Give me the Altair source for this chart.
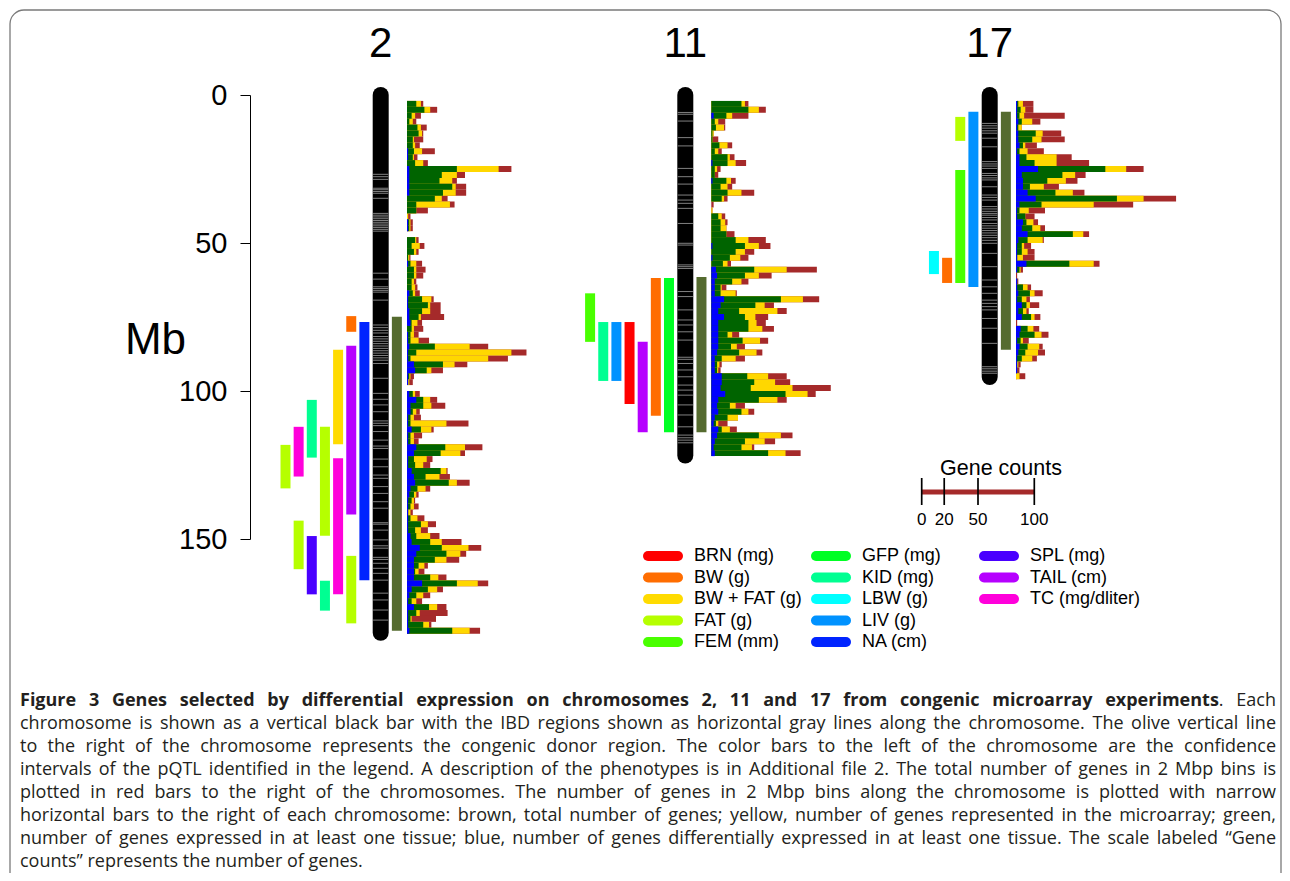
import glob
import os
import struct

import altair as alt
import pandas as pd

# ------------------------------------------------------------------ data
CHROMS = ["2", "11", "17"]
CHROM_LEN = [181.7, 121.8, 95.3]          # Mb
DONOR_START = [74.9, 61.5, 5.7]           # congenic donor region (Mb)
DONOR_END = [181.0, 113.9, 86.1]

PHENOS = ["BRN (mg)", "BW (g)", "BW + FAT (g)", "FAT (g)", "FEM (mm)",
          "GFP (mg)", "KID (mg)", "LBW (g)", "LIV (g)", "NA (cm)",
          "SPL (mg)", "TAIL (cm)", "TC (mg/dliter)"]
PHENO_COLORS = ["#FF0000", "#FF6D00", "#FFDB00", "#B6FF00", "#49FF00",
                "#00FF24", "#00FF92", "#00FFFF", "#0092FF", "#0024FF",
                "#4900FF", "#B600FF", "#FF00DB"]

# pQTL confidence intervals; lane 1 = column next to the chromosome
QTL_CHROM = ["2"] * 13 + ["11"] * 7 + ["17"] * 5
QTL_PHENO = ["NA (cm)", "BW (g)", "TAIL (cm)", "FAT (g)", "BW + FAT (g)",
             "TC (mg/dliter)", "FAT (g)", "KID (mg)", "KID (mg)", "SPL (mg)",
             "TC (mg/dliter)", "FAT (g)", "FAT (g)",
             "GFP (mg)", "BW (g)", "TAIL (cm)", "BRN (mg)", "LIV (g)",
             "KID (mg)", "FEM (mm)",
             "LIV (g)", "FAT (g)", "FEM (mm)", "BW (g)", "LBW (g)"]
QTL_LANE = [1, 2, 2, 2, 3, 3, 4, 4, 5, 5, 6, 6, 7,
            1, 2, 3, 4, 5, 6, 7,
            1, 2, 2, 3, 4]
QTL_START = [76.7, 74.7, 84.7, 155.7, 86.1, 122.7, 112.1, 164.1, 103.0, 149.0,
             112.1, 143.8, 118.2,
             61.8, 61.8, 83.4, 76.7, 76.7, 76.7, 67.0,
             5.7, 7.4, 25.3, 55.0, 52.7]
QTL_END = [163.9, 80.0, 141.7, 178.5, 118.0, 168.7, 148.9, 174.2, 122.5, 168.7,
           128.9, 160.2, 132.9,
           113.9, 108.4, 113.9, 104.4, 96.6, 96.6, 83.4,
           64.9, 15.5, 63.5, 63.5, 60.5]

# IBD regions (Mb) drawn as thin lines across the chromosome
IBD_2 = [26.8, 27.6, 28.5, 31.5, 32.0, 32.6, 33.2, 34.9, 40.0, 40.6, 41.2, 41.8,
         42.4, 43.0, 43.6, 44.2, 44.8, 45.4, 46.0, 60.2, 62.2, 64.8, 65.4, 66.0,
         66.6, 69.3, 77.7, 78.6, 79.5, 80.4, 81.6, 82.4, 83.2, 84.0, 84.8, 85.6,
         86.4, 87.2, 88.0, 88.8, 89.6, 90.7, 95.7, 100.8, 102.8, 104.7, 107.0,
         110.1, 110.9, 111.7, 113.7, 116.6, 118.6, 119.4, 123.0, 125.6, 128.4,
         129.5, 132.3, 134.6, 137.4, 139.6, 144.5, 145.0, 147.0, 150.3, 152.3,
         153.1, 156.2, 156.9, 158.2, 159.9, 161.6, 163.9, 168.3, 170.6, 174.0,
         177.4]
IBD_11 = [5.9, 6.5, 8.8, 14.4, 17.2, 24.8, 27.6, 30.1, 33.8, 35.5, 36.6, 38.3,
          43.4, 50.1, 50.7, 57.4, 58.0, 58.6, 66.4, 68.1, 72.6, 76.0, 77.7, 80.0,
          82.8, 88.6, 89.3, 90.7, 92.9, 95.2, 98.0, 99.7, 101.4, 104.7, 108.1,
          112.1, 114.9, 115.8, 116.6, 117.5]
IBD_17 = [9.6, 10.4, 11.2, 12.1, 12.9, 14.6, 17.5, 22.5, 23.3, 24.0, 24.8, 26.5,
          27.2, 28.0, 28.7, 31.0, 33.8, 34.6, 35.5, 37.7, 38.5, 39.3, 40.0, 40.6,
          41.4, 42.2, 43.4, 44.2, 45.0, 45.8, 46.6, 47.4, 48.2, 49.1, 50.1, 53.5,
          58.0, 62.5, 64.8, 67.0, 69.3, 70.4, 71.5, 72.6, 75.5, 78.8, 83.9, 91.8,
          92.5, 93.3, 94.0]
IBD = [IBD_2, IBD_11, IBD_17]

# genes per 2 Mb bin (bin k covers 2k..2k+2 Mb)
C2_TOTAL = [0, 14, 26, 12, 8, 17, 14, 14, 11, 24,
            9, 18, 90, 50, 43, 51, 51, 35, 41, 18,
            3, 5, 5, 0, 10, 15, 10, 3, 13, 16,
            14, 8, 9, 11, 23, 29, 29, 32, 13, 14,
            10, 19, 70, 103, 87, 52, 31, 6, 5, 0,
            11, 26, 33, 11, 12, 53, 23, 13, 10, 65,
            50, 22, 20, 35, 37, 54, 20, 10, 7, 10,
            5, 15, 25, 18, 28, 47, 64, 51, 45, 18,
            15, 34, 70, 31, 20, 13, 34, 35, 25, 21,
            63]
C2_ARRAY = [0, 12, 20, 7, 5, 12, 13, 6, 7, 13,
            6, 14, 79, 43, 39, 42, 42, 30, 37, 8,
            1, 3, 3, 0, 8, 11, 8, 2, 8, 8,
            8, 6, 7, 7, 21, 20, 20, 12, 9, 6,
            6, 10, 54, 90, 70, 41, 21, 3, 2, 0,
            7, 20, 21, 8, 6, 34, 21, 6, 6, 50,
            46, 17, 14, 34, 28, 43, 16, 8, 6, 6,
            3, 9, 18, 12, 20, 30, 53, 46, 34, 15,
            10, 27, 61, 26, 14, 8, 26, 11, 4, 19,
            54]
C2_EXPR = [0, 8, 15, 4, 2, 9, 10, 5, 5, 6,
           5, 7, 43, 30, 28, 39, 31, 24, 8, 8,
           0, 2, 2, 0, 7, 4, 6, 1, 3, 6,
           6, 4, 4, 5, 13, 18, 13, 10, 4, 4,
           3, 3, 24, 8, 3, 31, 17, 2, 1, 0,
           5, 14, 14, 5, 3, 3, 12, 3, 3, 33,
           29, 6, 7, 29, 16, 36, 9, 6, 4, 3,
           1, 3, 12, 7, 8, 20, 30, 34, 24, 10,
           7, 20, 43, 18, 8, 4, 19, 8, 3, 14,
           39]
C2_DE = [0, 0, 0, 0, 0, 0, 0, 0, 0, 1,
         1, 0, 2, 2, 2, 2, 2, 0, 0, 0,
         0, 1, 1, 0, 0, 0, 0, 0, 1, 0,
         0, 0, 0, 2, 1, 1, 2, 2, 3, 0,
         1, 1, 2, 1, 1, 6, 7, 1, 1, 0,
         2, 8, 3, 3, 1, 1, 4, 1, 1, 8,
         6, 1, 1, 4, 6, 7, 3, 2, 1, 1,
         1, 1, 1, 1, 3, 4, 11, 8, 6, 6,
         6, 6, 13, 4, 2, 1, 6, 1, 1, 1,
         2]

C11_TOTAL = [0, 32, 47, 32, 12, 12, 2, 6, 18, 9,
             20, 30, 8, 6, 21, 18, 37, 14, 2, 1,
             12, 14, 13, 20, 47, 51, 37, 32, 17, 91,
             52, 32, 13, 22, 93, 54, 65, 49, 47, 54,
             24, 49, 29, 44, 29, 9, 8, 65, 68, 103,
             90, 65, 29, 37, 23, 14, 22, 70, 55, 37,
             77]
C11_ARRAY = [0, 29, 41, 18, 6, 11, 2, 1, 14, 6,
             16, 21, 5, 3, 17, 14, 26, 11, 0, 1,
             9, 12, 13, 13, 32, 41, 29, 25, 14, 65,
             41, 26, 9, 21, 79, 46, 57, 38, 39, 44,
             18, 42, 22, 39, 21, 7, 6, 49, 55, 70,
             83, 57, 21, 32, 23, 6, 16, 60, 46, 35,
             64]
C11_EXPR = [0, 26, 32, 13, 3, 4, 1, 1, 7, 3,
            14, 14, 3, 3, 13, 8, 14, 9, 0, 0,
            6, 8, 8, 13, 21, 29, 21, 16, 10, 37,
            29, 18, 8, 8, 60, 38, 24, 29, 32, 32,
            14, 27, 17, 24, 9, 5, 5, 31, 37, 34,
            64, 41, 16, 26, 14, 4, 9, 41, 29, 26,
            49]
C11_DE = [0, 0, 0, 2, 0, 0, 0, 0, 0, 0,
          0, 1, 0, 0, 1, 0, 0, 0, 0, 0,
          0, 0, 0, 0, 0, 1, 0, 1, 0, 4,
          5, 3, 3, 3, 11, 8, 6, 11, 6, 6,
          6, 6, 6, 5, 3, 3, 3, 9, 9, 8,
          12, 6, 5, 6, 3, 2, 6, 5, 3, 2,
          3]

C17_TOTAL = [0, 15, 15, 42, 21, 5, 39, 42, 18, 24,
             48, 63, 110, 60, 53, 37, 59, 138, 101, 25,
             16, 19, 25, 63, 24, 13, 16, 16, 72, 6,
             1, 2, 13, 23, 12, 20, 11, 21, 1, 20,
             28, 11, 23, 25, 18, 4, 3, 8]
C17_ARRAY = [0, 6, 8, 7, 14, 5, 23, 22, 8, 10,
             35, 35, 95, 51, 43, 24, 49, 110, 67, 11,
             8, 15, 21, 58, 23, 7, 10, 6, 67, 4,
             0, 1, 10, 16, 9, 12, 9, 16, 0, 15,
             22, 6, 20, 19, 14, 2, 1, 3]
C17_EXPR = [0, 2, 4, 3, 5, 2, 17, 14, 6, 3,
            9, 16, 77, 40, 27, 12, 34, 87, 22, 3,
            8, 9, 14, 49, 10, 5, 5, 1, 46, 3,
            0, 1, 6, 12, 5, 9, 6, 13, 0, 10,
            16, 4, 10, 8, 5, 1, 1, 0]
C17_DE = [0, 1, 1, 1, 2, 1, 2, 2, 3, 1,
          3, 3, 19, 5, 6, 6, 10, 17, 3, 1,
          1, 6, 5, 10, 2, 1, 1, 1, 9, 1,
          0, 1, 1, 2, 1, 5, 2, 5, 0, 4,
          3, 1, 3, 2, 1, 1, 1, 0]

GENES = [
    [C2_TOTAL, C2_ARRAY, C2_EXPR, C2_DE],
    [C11_TOTAL, C11_ARRAY, C11_EXPR, C11_DE],
    [C17_TOTAL, C17_ARRAY, C17_EXPR, C17_DE],
]
GENE_KINDS = ["total", "on array", "expressed", "differentially expressed"]
GENE_COLORS = ["#A52A2A", "#FFD700", "#006400", "#0000FF"]

MB_TICKS = [0, 50, 100, 150]
SCALE_TICKS = [0, 20, 50, 100]

CAPTION_BOLD = ("Figure 3 Genes selected by differential expression on chromosomes "
                "2, 11 and 17 from congenic microarray experiments")
CAPTION_TAIL = ". Each"
CAPTION_LINES = [
    "chromosome is shown as a vertical black bar with the IBD regions shown as horizontal gray lines along the chromosome. The olive vertical line",
    "to the right of the chromosome represents the congenic donor region. The color bars to the left of the chromosome are the confidence",
    "intervals of the pQTL identified in the legend. A description of the phenotypes is in Additional file 2. The total number of genes in 2 Mbp bins is",
    "plotted in red bars to the right of the chromosomes. The number of genes in 2 Mbp bins along the chromosome is plotted with narrow",
    "horizontal bars to the right of each chromosome: brown, total number of genes; yellow, number of genes represented in the microarray; green,",
    "number of genes expressed in at least one tissue; blue, number of genes differentially expressed in at least one tissue. The scale labeled \u201cGene",
    "counts\u201d represents the number of genes.",
]

# ------------------------------------------------------------------ layout / style
W, H = 1274, 865
FONT = "Liberation Sans"
CAP_FONT = "Open Sans"
CAP_SIZE = 18
CAP_LEFT, CAP_RIGHT = 12, 1268      # caption text block (justified)
Y_RANGE = [87, 531]                 # pixel rows of 0 Mb and 150 Mb
CHR_CENTER = [372.7, 677.3, 981.7]  # pixel column of each chromosome
LANE_STEP = 13.15                   # px per lane
GENE_ORIGIN = [399, 703.3, 1008]    # pixel column of 0 genes
GENE_PX = 1.16                      # px per gene


# ---------- text measuring (for the justified caption), with safe fallback
def _parse_font(path):
    data = open(path, "rb").read()
    if data[:4] == b"ttcf":
        raise ValueError("collection")
    ntab = struct.unpack(">H", data[4:6])[0]
    tabs = {}
    for k in range(ntab):
        tag, _cs, off, ln = struct.unpack(">4sIII", data[12 + 16 * k: 28 + 16 * k])
        tabs[tag.decode("latin1")] = off
    upem = struct.unpack(">H", data[tabs["head"] + 18: tabs["head"] + 20])[0]
    nhm = struct.unpack(">H", data[tabs["hhea"] + 34: tabs["hhea"] + 36])[0]
    ho = tabs["hmtx"]
    adv = [struct.unpack(">H", data[ho + 4 * k: ho + 4 * k + 2])[0] for k in range(nhm)]
    co = tabs["cmap"]
    nsub = struct.unpack(">H", data[co + 2: co + 4])[0]
    sub = None
    for k in range(nsub):
        pid, eid, so = struct.unpack(">HHI", data[co + 4 + 8 * k: co + 12 + 8 * k])
        fmt = struct.unpack(">H", data[co + so: co + so + 2])[0]
        if fmt == 4 and pid in (0, 3):
            sub = co + so
            break
    if sub is None:
        raise ValueError("no cmap")
    seg2 = struct.unpack(">H", data[sub + 6: sub + 8])[0]
    seg = seg2 // 2
    ends = struct.unpack(">%dH" % seg, data[sub + 14: sub + 14 + seg2])
    starts = struct.unpack(">%dH" % seg, data[sub + 16 + seg2: sub + 16 + 2 * seg2])
    deltas = struct.unpack(">%dh" % seg, data[sub + 16 + 2 * seg2: sub + 16 + 3 * seg2])
    rpos = sub + 16 + 3 * seg2
    roffs = struct.unpack(">%dH" % seg, data[rpos: rpos + seg2])

    def gid(c):
        for k in range(seg):
            if starts[k] <= c <= ends[k]:
                if roffs[k] == 0:
                    return (c + deltas[k]) & 0xFFFF
                a = rpos + 2 * k + roffs[k] + 2 * (c - starts[k])
                g = struct.unpack(">H", data[a: a + 2])[0]
                return (g + deltas[k]) & 0xFFFF if g else 0
        return 0

    cache = {}

    def width(s, size):
        tot = 0
        for ch in s:
            if ch not in cache:
                cache[ch] = adv[min(gid(ord(ch)), nhm - 1)]
            tot += cache[ch]
        return tot * size / upem

    width("abc", 10)
    return width


def _find_font(pred):
    files = []
    for root in ["/usr/share/fonts", "/usr/local/share/fonts",
                 os.path.expanduser("~/.fonts"), os.path.expanduser("~/.local/share/fonts")]:
        files += glob.glob(os.path.join(root, "**", "*.[ot]tf"), recursive=True)
    for f in sorted(files):
        if pred(os.path.basename(f).lower()):
            try:
                return _parse_font(f)
            except Exception:
                continue
    return None


measure_reg = _find_font(lambda n: n in ("opensans-regular.ttf", "opensans-regular.otf"))
measure_bold = _find_font(lambda n: n in ("opensans-bold.ttf", "opensans-bold.otf"))

# ---------- caption layout: words of each justified line
cap_left, cap_right, cap_bold = [], [], []
if measure_reg is not None and measure_bold is not None:
    bw = CAPTION_BOLD.split(" ")
    wb = [measure_bold(w, CAP_SIZE) for w in bw]
    sp_b = measure_bold(" ", CAP_SIZE)
    sp_r = measure_reg(" ", CAP_SIZE)
    dot = measure_reg(".", CAP_SIZE)
    each = measure_reg("Each", CAP_SIZE)
    natural = sum(wb) + sp_b * (len(bw) - 1) + dot + sp_r + each
    extra = max(0.0, (CAP_RIGHT - CAP_LEFT - natural) / len(bw))
    x = CAP_LEFT
    for w, wd in zip(bw, wb):
        cap_bold.append({"line": 0, "w": w, "px": x})
        x += wd + sp_b + extra
    x -= sp_b + extra
    cap_left.append({"line": 0, "w": ".", "px": x})
    cap_right.append({"line": 0, "w": "Each", "px": CAP_RIGHT})
else:
    cap_bold.append({"line": 0, "w": CAPTION_BOLD, "px": CAP_LEFT})
    cap_right.append({"line": 0, "w": CAPTION_TAIL, "px": CAP_RIGHT})

for li, line in enumerate(CAPTION_LINES, start=1):
    last = li == len(CAPTION_LINES)
    if measure_reg is None or last:
        cap_left.append({"line": li, "w": line, "px": CAP_LEFT})
        continue
    words = line.split(" ")
    wds = [measure_reg(w, CAP_SIZE) for w in words]
    sp = measure_reg(" ", CAP_SIZE)
    natural = sum(wds) + sp * (len(words) - 1)
    extra = max(0.0, (CAP_RIGHT - CAP_LEFT - natural) / (len(words) - 1))
    x = CAP_LEFT
    for k, (w, wd) in enumerate(zip(words, wds)):
        if k == len(words) - 1 and extra > 0:
            cap_right.append({"line": li, "w": w, "px": CAP_RIGHT})
        else:
            cap_left.append({"line": li, "w": w, "px": x})
        x += wd + sp + extra


# ---------- scales
def y_mb():
    return alt.Scale(domain=[0, 150], range=Y_RANGE, nice=False, zero=False)


def lane_x(i):
    c = CHR_CENTER[i]
    return alt.Scale(domain=[0, 1], range=[c, c + LANE_STEP], nice=False, zero=False)


def gene_x(i):
    o = GENE_ORIGIN[i]
    return alt.Scale(domain=[0, 100], range=[o, o + 100 * GENE_PX], nice=False, zero=False)


pheno_color = alt.Scale(domain=PHENOS, range=PHENO_COLORS)
kind_color = alt.Scale(domain=GENE_KINDS, range=GENE_COLORS)

layers = []

# frame
layers.append(
    alt.Chart(pd.DataFrame({"f": [0]})).mark_rect(
        fillOpacity=0, stroke="#7a7a7a", strokeWidth=1.3, cornerRadius=14
    ).encode(x=alt.value(2), x2=alt.value(1273), y=alt.value(2), y2=alt.value(900))
)

qtl_df = pd.DataFrame({"chrom": QTL_CHROM, "pheno": QTL_PHENO, "lane": QTL_LANE,
                       "start": QTL_START, "end": QTL_END})

for i, ch in enumerate(CHROMS):
    y_enc = alt.Y("z:Q", scale=y_mb(), axis=None)
    if i == 0:
        y_enc = alt.Y(
            "z:Q", scale=y_mb(),
            axis=alt.Axis(values=MB_TICKS, title="Mb", offset=-242, grid=False,
                          tickSize=10, tickColor="black", domainColor="black",
                          labelColor="black", labelFont=FONT, labelFontSize=29,
                          labelPadding=13, titleFont=FONT, titleFontSize=44,
                          titleFontWeight="normal", titleColor="black", titleAngle=0,
                          titleX=-95, titleY=332, titleAlign="center",
                          titleBaseline="middle"),
        )
    # chromosome body
    layers.append(
        alt.Chart(pd.DataFrame({"z": [0], "len": [CHROM_LEN[i]]}))
        .mark_rule(strokeWidth=16, strokeCap="round", color="black")
        .encode(x=alt.X("z:Q", scale=lane_x(i), axis=None), y=y_enc, y2="len:Q")
    )
    # IBD lines
    layers.append(
        alt.Chart(pd.DataFrame({"pos": IBD[i]}))
        .transform_calculate(a="-0.58", b="0.58")
        .mark_rule(color="#808080", strokeWidth=1)
        .encode(x=alt.X("a:Q", scale=lane_x(i), axis=None), x2="b:Q",
                y=alt.Y("pos:Q", scale=y_mb(), axis=None))
    )
    # congenic donor region
    layers.append(
        alt.Chart(pd.DataFrame({"start": [DONOR_START[i]], "end": [DONOR_END[i]]}))
        .transform_calculate(a="1.23 - 0.38", b="1.23 + 0.38")
        .mark_rect(color="#556B2F")
        .encode(x=alt.X("a:Q", scale=lane_x(i), axis=None), x2="b:Q",
                y=alt.Y("start:Q", scale=y_mb(), axis=None), y2="end:Q")
    )
    # pQTL intervals
    layers.append(
        alt.Chart(qtl_df[qtl_df.chrom == ch])
        .transform_calculate(a="-(datum.lane + 0.24) - 0.38",
                             b="-(datum.lane + 0.24) + 0.38")
        .mark_rect()
        .encode(x=alt.X("a:Q", scale=lane_x(i), axis=None), x2="b:Q",
                y=alt.Y("start:Q", scale=y_mb(), axis=None), y2="end:Q",
                color=alt.Color("pheno:N", scale=pheno_color, legend=None))
    )
    # gene counts per bin
    rows = []
    for kind, series in zip(GENE_KINDS, GENES[i]):
        for b, n in enumerate(series):
            rows.append({"bin": b, "kind": kind, "n": n})
    layers.append(
        alt.Chart(pd.DataFrame(rows))
        .transform_calculate(lo="datum.bin * 2", hi="datum.bin * 2 + 2", z="0")
        .mark_rect()
        .encode(x=alt.X("n:Q", scale=gene_x(i), axis=None), x2="z:Q",
                y=alt.Y("lo:Q", scale=y_mb(), axis=None), y2="hi:Q",
                color=alt.Color("kind:N", scale=kind_color, legend=None))
    )
    # chromosome label
    layers.append(
        alt.Chart(pd.DataFrame({"z": [0], "t": [ch]}))
        .mark_text(font=FONT, fontSize=42, align="center", baseline="alphabetic",
                   color="black")
        .encode(x=alt.X("z:Q", scale=lane_x(i), axis=None), y=alt.value(49),
                text="t:N")
    )

# phenotype legend (5 rows x 3 columns, filled column by column)
leg = pd.DataFrame({"pheno": PHENOS})
leg["col"] = [k // 5 for k in range(len(PHENOS))]
leg["row"] = [k % 5 for k in range(len(PHENOS))]
leg_x = alt.Scale(domain=[0, 1], range=[640, 808], nice=False, zero=False)
leg_y = alt.Scale(domain=[0, 4], range=[548, 634], nice=False, zero=False)
layers.append(
    alt.Chart(leg).transform_calculate(c2="datum.col + 30 / 168")
    .mark_rule(strokeWidth=10, strokeCap="round")
    .encode(x=alt.X("col:Q", scale=leg_x, axis=None), x2="c2:Q",
            y=alt.Y("row:Q", scale=leg_y, axis=None),
            color=alt.Color("pheno:N", scale=pheno_color, legend=None))
)
layers.append(
    alt.Chart(leg).mark_text(font=FONT, fontSize=18, align="left", baseline="middle",
                             dx=46, color="black")
    .encode(x=alt.X("col:Q", scale=leg_x, axis=None),
            y=alt.Y("row:Q", scale=leg_y, axis=None), text="pheno:N")
)

# "Gene counts" scale
sc_x = alt.Scale(domain=[0, 100], range=[913.7, 1026.3], nice=False, zero=False)
layers.append(
    alt.Chart(pd.DataFrame({"a": [SCALE_TICKS[0]], "b": [SCALE_TICKS[-1]]}))
    .mark_rule(color="#A52A2A", strokeWidth=5)
    .encode(x=alt.X("a:Q", scale=sc_x, axis=None), x2="b:Q", y=alt.value(484))
)
ticks_df = pd.DataFrame({"t": SCALE_TICKS, "lab": [str(t) for t in SCALE_TICKS]})
layers.append(
    alt.Chart(ticks_df).mark_rule(color="black", strokeWidth=1.7)
    .encode(x=alt.X("t:Q", scale=sc_x, axis=None), y=alt.value(470), y2=alt.value(497))
)
layers.append(
    alt.Chart(ticks_df).mark_text(font=FONT, fontSize=17, baseline="alphabetic",
                                  align="center", color="black")
    .encode(x=alt.X("t:Q", scale=sc_x, axis=None), y=alt.value(517), text="lab:N")
)
layers.append(
    alt.Chart(pd.DataFrame({"t": ["Gene counts"]}))
    .mark_text(font=FONT, fontSize=21.5, align="left", baseline="alphabetic",
               color="black")
    .encode(x=alt.value(932), y=alt.value(467), text="t:N")
)

# caption
cap_y = alt.Scale(domain=[0, 7], range=[693, 854], nice=False, zero=False)
cap_px = alt.Scale(domain=[0, W], range=[0, W], nice=False, zero=False)
for rows_, weight, align in [(cap_bold, "bold", "left"), (cap_left, "normal", "left"),
                             (cap_right, "normal", "right")]:
    layers.append(
        alt.Chart(pd.DataFrame(rows_))
        .mark_text(font=CAP_FONT, fontSize=CAP_SIZE, fontWeight=weight, align=align,
                   baseline="middle", color="#231f20")
        .encode(x=alt.X("px:Q", scale=cap_px, axis=None),
                y=alt.Y("line:Q", scale=cap_y, axis=None), text="w:N")
    )

chart = (
    alt.layer(*layers)
    .resolve_scale(x="independent", y="independent", color="independent")
    .properties(width=W, height=H, padding=0, autosize="none")
    .configure_view(stroke="transparent")
)

chart.save("out.html", embed_options={"renderer": "svg", "actions": False})
